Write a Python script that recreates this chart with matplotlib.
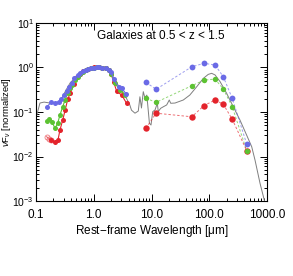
import numpy as np
import matplotlib
matplotlib.use("Agg")
import matplotlib.pyplot as plt
from matplotlib.ticker import LogLocator, FixedLocator, NullFormatter

plt.rcParams['font.family'] = ['Liberation Sans', 'DejaVu Sans']
plt.rcParams['mathtext.fontset'] = 'custom'
plt.rcParams['mathtext.rm'] = 'Liberation Sans'
plt.rcParams['mathtext.it'] = 'Liberation Sans:italic'

blue_c = "#6a6ae6"
green_c = "#5cc232"
red_c = "#e3232b"
gray_c = "#7f7f7f"

# optical / near-IR photometry (rest-frame um, normalized nuFnu)
blue_wl = [0.155, 0.182, 0.213, 0.247, 0.271, 0.309, 0.344, 0.378, 0.42, 0.46, 0.527, 0.578,
           0.65, 0.72, 0.8, 0.9, 1.0, 1.12, 1.25, 1.4, 1.6, 1.8, 2.0, 2.2, 2.7, 3.05, 3.6]
blue_f = [0.131, 0.165, 0.162, 0.17, 0.193, 0.241, 0.301, 0.371, 0.442, 0.572, 0.678, 0.763,
          0.85, 0.89, 0.92, 0.95, 0.98, 1.0, 1.0, 0.99, 0.96, 0.9, 0.78, 0.55, 0.37, 0.34, 0.26]

green_wl = [0.155, 0.17, 0.189, 0.213, 0.237, 0.26, 0.29, 0.318, 0.354, 0.39, 0.42, 0.47, 0.53, 0.58,
            0.65, 0.72, 0.8, 0.9, 1.0, 1.12, 1.25, 1.4, 1.6, 1.8, 2.0, 2.3, 2.85, 3.5]
green_f = [0.064, 0.0685, 0.0605, 0.043, 0.0557, 0.0857, 0.131, 0.186, 0.263, 0.341, 0.40, 0.52, 0.62, 0.70,
           0.80, 0.87, 0.91, 0.95, 0.98, 1.0, 1.0, 0.99, 0.95, 0.86, 0.72, 0.45, 0.31, 0.24]

red_open_wl = [0.152, 0.168, 0.185]
red_open_f = [0.028, 0.025, 0.0235]
red_wl = [0.185, 0.213, 0.24, 0.26, 0.29, 0.32, 0.354, 0.39, 0.45, 0.52, 0.58,
          0.65, 0.72, 0.8, 0.9, 1.0, 1.12, 1.25, 1.4, 1.6, 1.8, 2.0, 2.2, 2.5, 3.05, 3.7]
red_f = [0.0235, 0.0208, 0.0235, 0.0394, 0.066, 0.111, 0.193, 0.263, 0.42, 0.60, 0.72,
         0.84, 0.90, 0.94, 0.97, 1.0, 1.0, 1.0, 0.98, 0.95, 0.86, 0.72, 0.48, 0.29, 0.24, 0.157]

# mid/far-IR photometry
ir_wl = [8.0, 12.0, 50.0, 81.0, 126.0, 175.0, 250.0, 445.0]
blue_ir = [0.465, 0.324, 1.04, 1.24, 1.14, 0.62, 0.203, 0.019]
green_ir = [0.203, 0.165, 0.39, 0.52, 0.55, 0.329, 0.131, 0.0135]
red_ir = [0.043, 0.094, 0.078, 0.139, 0.186, 0.149, 0.069, 0.0135]

# template SED
tmpl_wl = [0.1, 0.117, 0.138, 0.174, 0.213, 0.24, 0.28, 0.33, 0.39, 0.47, 0.58, 0.8, 1.05, 1.29,
           1.57, 1.9, 2.3, 2.7, 3.2, 3.7, 4.2, 4.5, 5.17, 5.9, 6.3, 6.7, 7.2, 7.7, 8.3, 9.2, 9.8,
           10.5, 11.5, 12.6, 13.1, 14.4, 16.0, 18.3, 20.3, 21.5, 25.5, 35.5, 46.0, 60.7, 79.0,
           96.0, 110.0, 126.0, 154.0, 200.0, 261.0, 340.0, 445.0, 543.0, 620.0, 757.0, 1000.0]
tmpl_f = [0.073, 0.159, 0.167, 0.159, 0.159, 0.152, 0.205, 0.31, 0.45, 0.58, 0.71, 0.88, 0.97, 1.06,
          1.03, 0.88, 0.52, 0.385, 0.28, 0.20, 0.145, 0.11, 0.094, 0.105, 0.22, 0.123, 0.286, 0.206,
          0.24, 0.056, 0.051, 0.102, 0.111, 0.157, 0.102, 0.121, 0.131, 0.144, 0.186, 0.157, 0.159,
          0.186, 0.24, 0.37, 0.57, 0.70, 0.74, 0.68, 0.48, 0.263, 0.131, 0.066, 0.03, 0.0166,
          0.0083, 0.0025, 0.0006]

fig = plt.figure(figsize=(2.93, 2.76), dpi=100)
ax = fig.add_axes([0.1229, 0.2717, 0.7884, 0.645])

ax.plot(tmpl_wl, tmpl_f, color=gray_c, lw=0.7, zorder=2)

ms = 3.6
for wl, f, c in [(red_wl, red_f, red_c), (green_wl, green_f, green_c), (blue_wl, blue_f, blue_c)]:
    ax.plot(wl, f, color=c, lw=0.8, marker='o', ms=ms, mec='none', zorder=3)
ax.plot(red_open_wl, red_open_f, color=red_c, lw=0.8, marker='o', ms=ms,
        mfc='none', mec=red_c, mew=0.6, alpha=0.6, zorder=3)

for f, c in [(blue_ir, blue_c), (green_ir, green_c), (red_ir, red_c)]:
    ax.plot(ir_wl, f, color=c, lw=0.7, ls=(0, (2.5, 2)), alpha=0.65, zorder=3)
for f, c, s in [(blue_ir, blue_c, ms + 0.6), (red_ir, red_c, ms + 1.0), (green_ir, green_c, ms + 0.3)]:
    ax.plot(ir_wl, f, ls='none', marker='o', ms=s, color=c, mec='none', zorder=4)

ax.set_xscale('log')
ax.set_yscale('log')
ax.set_xlim(0.1, 1000)
ax.set_ylim(1e-3, 10)

ax.xaxis.set_major_locator(FixedLocator([0.1, 1, 10, 100, 1000]))
ax.set_xticklabels(['0.1', '1.0', '10.0', '100.0', '1000.0'])
ax.xaxis.set_minor_locator(LogLocator(base=10, subs=np.arange(2, 10), numticks=20))
ax.xaxis.set_minor_formatter(NullFormatter())
ax.yaxis.set_major_locator(FixedLocator([1e-3, 1e-2, 1e-1, 1, 10]))
ax.set_yticklabels([r'$10^{-3}$', r'$10^{-2}$', r'$10^{-1}$', r'$10^{0}$', r'$10^{1}$'])
ax.yaxis.set_minor_locator(LogLocator(base=10, subs=np.arange(2, 10), numticks=20))
ax.yaxis.set_minor_formatter(NullFormatter())

ax.tick_params(which='both', direction='in', top=True, right=True, labelsize=8.5, width=0.7)
ax.tick_params(which='major', length=5)
ax.tick_params(axis='x', which='major', pad=6)
ax.tick_params(axis='y', which='major', pad=1.5, labelsize=7.5)
ax.tick_params(which='minor', length=2.5)
for sp in ax.spines.values():
    sp.set_linewidth(0.8)

ax.set_xlabel(r'Rest$-$frame Wavelength [$\mathrm{\mu}$m]', fontsize=8.5, labelpad=1)
fig.text(0.0, 0.594, r'$\nu$F$_\nu$ [normalized]', fontsize=6.8, rotation=90,
         ha='left', va='center')
ax.text(0.541, 0.925, 'Galaxies at 0.5 < z < 1.5', transform=ax.transAxes,
        ha='center', va='center', fontsize=8.5)

fig.savefig('out.png', dpi=100)
